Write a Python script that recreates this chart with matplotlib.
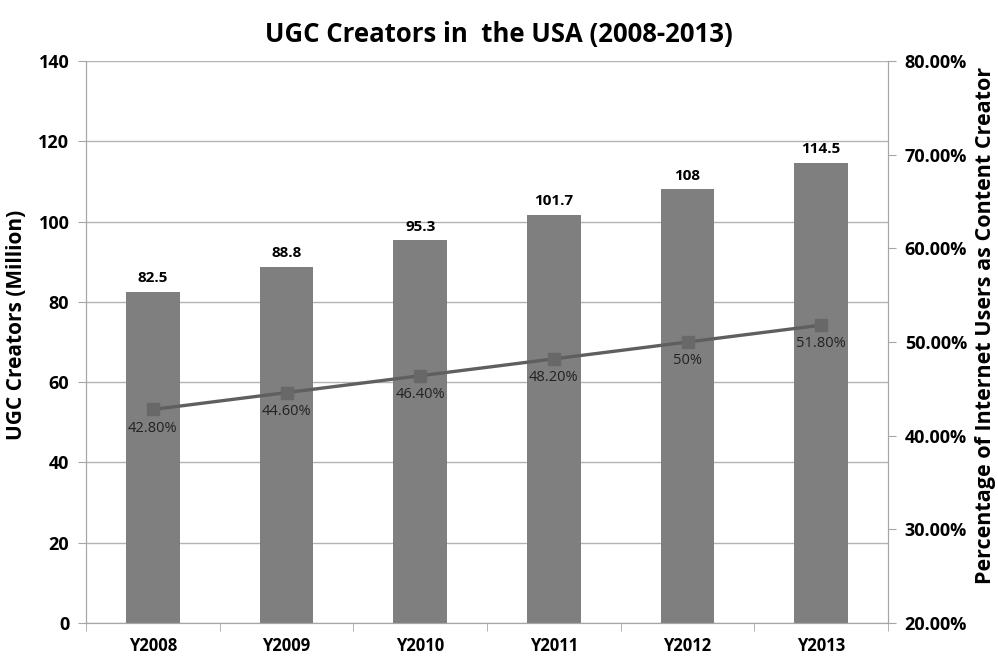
import matplotlib.pyplot as plt
import numpy as np

years = ["Y2008", "Y2009", "Y2010", "Y2011", "Y2012", "Y2013"]
creators = [82.5, 88.8, 95.3, 101.7, 108, 114.5]
pct = [42.8, 44.6, 46.4, 48.2, 50.0, 51.8]
pct_labels = ["42.80%", "44.60%", "46.40%", "48.20%", "50%", "51.80%"]

plt.rcParams['font.family'] = ['Open Sans', 'DejaVu Sans']

fig = plt.figure(figsize=(9.98, 6.59), dpi=100)
ax = fig.add_axes([0.0862, 0.0546, 0.8036, 0.8528])
ax2 = ax.twinx()

x = np.arange(len(years))
grey_axis = "#a6a6a6"

ax.set_axisbelow(True)
ax.bar(x, creators, width=0.40, color="#7f7f7f", zorder=2)
for xi, v in zip(x, creators):
    ax.annotate(f"{v:g}", (xi, v), xytext=(0, 5), textcoords="offset points",
                ha="center", va="bottom", fontsize=11, fontweight="bold")

ax.set_ylim(0, 140)
ax.set_yticks(range(0, 141, 20))
ax.set_xlim(-0.5, 5.5)
ax.set_xticks(x)
ax.set_xticklabels(years)
ax.set_xticks(np.arange(-0.5, 6, 1), minor=True)
ax.tick_params(axis="x", which="major", length=0, pad=10)
ax.tick_params(axis="x", which="minor", length=6, color=grey_axis)
ax.tick_params(axis="y", length=6, color=grey_axis, pad=6)
ax.yaxis.grid(True, color="#b3b3b3", linewidth=1)
for lab in ax.get_xticklabels():
    lab.set_fontweight("bold")
    lab.set_fontsize(12)
for lab in ax.get_yticklabels():
    lab.set_fontweight("bold")
    lab.set_fontsize(13)
ax.set_ylabel("UGC Creators (Million)", fontsize=15, fontweight="bold", labelpad=8)
ax.yaxis.label.set_y(0.53)

ax2.plot(x, pct, color="#5f5f5f", linewidth=2.4, marker="s", markersize=8.5,
         markerfacecolor="#686868", markeredgecolor="#686868", zorder=3)
for xi, v, t in zip(x, pct, pct_labels):
    ax2.annotate(t, (xi, v), xytext=(0, -8), textcoords="offset points",
                 ha="center", va="top", fontsize=10.5, color="#222222")
ax2.set_ylim(20, 80)
ax2.set_yticks(range(20, 81, 10))
ax2.set_yticklabels([f"{v:.2f}%" for v in range(20, 81, 10)])
ax2.tick_params(axis="y", length=6, color=grey_axis, pad=6)
for lab in ax2.get_yticklabels():
    lab.set_fontweight("bold")
    lab.set_fontsize(13)
ax2.set_ylabel("Percentage of Internet Users as Content Creator", fontsize=15.5,
               fontweight="bold", labelpad=6)
ax2.yaxis.label.set_y(0.53)

for a in (ax, ax2):
    a.spines["top"].set_visible(False)
    for s in ("left", "right", "bottom"):
        a.spines[s].set_color(grey_axis)

fig.suptitle("UGC Creators in  the USA (2008-2013)", y=0.947, va="center",
             fontsize=18.5, fontweight="bold")

fig.savefig("out.png", dpi=100)
